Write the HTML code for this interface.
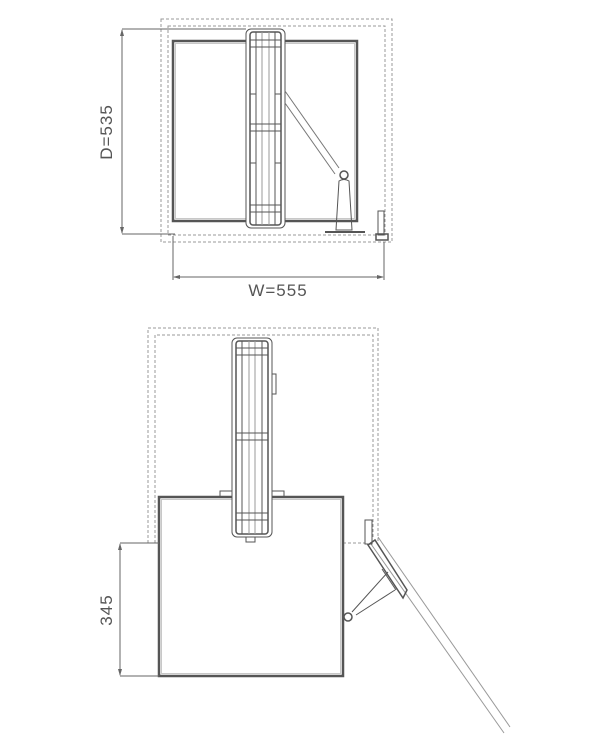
<!DOCTYPE html>
<html><head><meta charset="utf-8"><style>
html,body{margin:0;padding:0;background:#fff;}
svg{display:block;}
text{font-family:"Liberation Sans",sans-serif;fill:#555;}
</style></head><body>
<svg width="613" height="736" viewBox="0 0 613 736" xmlns="http://www.w3.org/2000/svg">
<g fill="none" stroke="#999" stroke-width="1" stroke-dasharray="3,2">
<rect x="161" y="19" width="231" height="223"/>
<rect x="168" y="26" width="217" height="209"/>
</g>
<rect x="173" y="41" width="184" height="180" fill="none" stroke="#555" stroke-width="2.5"/>
<rect x="175.5" y="43.5" width="179" height="175" fill="none" stroke="#bbb" stroke-width="0.8"/>
<!-- top rail -->
<g stroke="#555" fill="none">
<rect x="246" y="29" width="39" height="199" rx="5" fill="#fff" stroke-width="1"/>
<rect x="250" y="32" width="31" height="193" rx="3" stroke-width="1.5"/>
<line x1="256" y1="32" x2="256" y2="225"/><line x1="275" y1="32" x2="275" y2="225"/>
<line x1="262" y1="32" x2="262" y2="225" stroke="#999"/><line x1="269" y1="32" x2="269" y2="225" stroke="#999"/>
<rect x="250" y="40" width="31" height="7" stroke-width="1"/>
<rect x="250" y="124" width="31" height="7"/>
<rect x="250" y="205" width="31" height="7"/>
<line x1="250" y1="94" x2="256" y2="94"/><line x1="275" y1="94" x2="281" y2="94"/>
<line x1="250" y1="163" x2="256" y2="163"/><line x1="275" y1="163" x2="281" y2="163"/>
<!-- arm -->
<line x1="285" y1="91" x2="339" y2="168" stroke="#777"/>
<line x1="285" y1="103" x2="335" y2="174" stroke="#777"/>
<circle cx="344" cy="175" r="4" stroke-width="1.5"/>
<path d="M339 181 Q344 178 349 181 L352 230 L336 230 Z" stroke-width="1"/>
<line x1="325" y1="232" x2="365" y2="232" stroke-width="2"/>
<rect x="378" y="211" width="6" height="24"/>
<rect x="376" y="234" width="12" height="6" stroke-width="1.5"/>
</g>
<!-- dims top -->
<g stroke="#666" stroke-width="1" fill="none">
<line x1="122" y1="29" x2="246" y2="29"/>
<line x1="122" y1="234" x2="175" y2="234"/>
<line x1="122" y1="30" x2="122" y2="233"/>
<line x1="173" y1="236" x2="173" y2="280"/>
<line x1="384" y1="242" x2="384" y2="280"/>
<line x1="174" y1="277" x2="383" y2="277"/>
</g>
<g fill="#666">
<path d="M122 29 l-2 7 h4z"/><path d="M122 234 l-2 -7 h4z"/>
<path d="M173 277 l7 -2 v4z"/><path d="M384 277 l-7 -2 v4z"/>
</g>
<text x="278" y="296" font-size="17" text-anchor="middle" letter-spacing="1">W=555</text>
<text transform="translate(112,132) rotate(-90)" font-size="17" text-anchor="middle" letter-spacing="1">D=535</text>

<!-- bottom -->
<g fill="none" stroke="#999" stroke-width="1" stroke-dasharray="3,2">
<polyline points="148,543 148,328 378,328 378,543"/>
<polyline points="155,543 155,335 373,335 373,537"/>
<line x1="148" y1="543" x2="159" y2="543"/>
<line x1="343" y1="543" x2="365" y2="543"/>
</g>
<rect x="159" y="497" width="184" height="179" fill="#fff" stroke="#555" stroke-width="2.5"/>
<rect x="161.5" y="499.5" width="179" height="174" fill="none" stroke="#bbb" stroke-width="0.8"/>
<g stroke="#555" fill="none">
<rect x="220" y="491" width="64" height="6" stroke-width="1"/>
<rect x="232" y="338" width="40" height="199" rx="5" fill="#fff"/>
<rect x="236" y="341" width="32" height="193" rx="3" stroke-width="1.5"/>
<line x1="242" y1="341" x2="242" y2="534"/><line x1="262" y1="341" x2="262" y2="534"/>
<line x1="249" y1="341" x2="249" y2="534" stroke="#999"/><line x1="255" y1="341" x2="255" y2="534" stroke="#999"/>
<rect x="236" y="348" width="32" height="7"/>
<rect x="236" y="433" width="32" height="7"/>
<rect x="236" y="513" width="32" height="7"/>
<rect x="246" y="537" width="9" height="5"/>
<rect x="272" y="374" width="4" height="20"/>
<!-- door -->
<line x1="378" y1="537" x2="510" y2="727" stroke="#999"/>
<line x1="371" y1="544" x2="504" y2="733" stroke="#999"/>
<rect x="365" y="520" width="7" height="24"/>
<path d="M368 545 L375 540 L407 590 L403 598 Z" stroke-width="1.5"/>
<line x1="352" y1="612" x2="388" y2="572"/><line x1="356" y1="615" x2="395" y2="590"/>
<line x1="382" y1="569" x2="396" y2="590"/>
<circle cx="348" cy="617" r="4" stroke-width="1.5"/>
</g>
<g stroke="#666" stroke-width="1" fill="none">
<line x1="120" y1="543" x2="159" y2="543"/>
<line x1="120" y1="676" x2="159" y2="676"/>
<line x1="120" y1="544" x2="120" y2="675"/>
</g>
<g fill="#666"><path d="M120 543 l-2 7 h4z"/><path d="M120 676 l-2 -7 h4z"/></g>
<text transform="translate(112,610) rotate(-90)" font-size="17" text-anchor="middle" letter-spacing="1">345</text>
</svg>
</body></html>
